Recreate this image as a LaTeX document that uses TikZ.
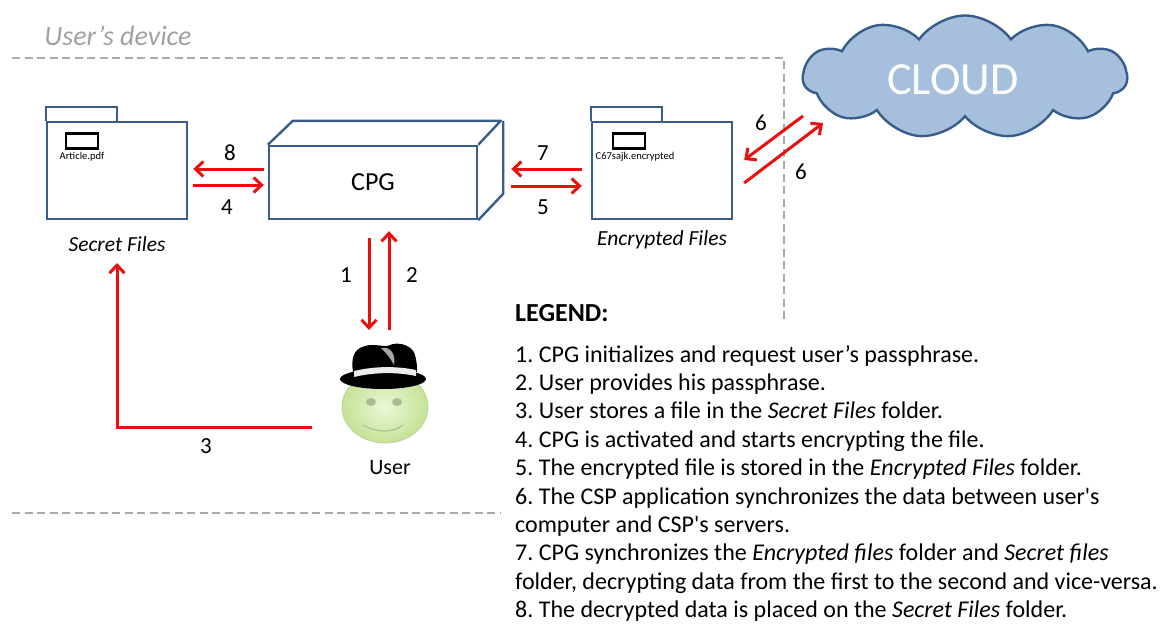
\documentclass[tikz,border=0pt]{standalone}
\usepackage{fontspec}
\setmainfont{Carlito}
\usetikzlibrary{arrows.meta,shapes.symbols}

\definecolor{boxblue}{RGB}{56,93,138}
\definecolor{flowred}{RGB}{232,16,16}
\definecolor{cloudfill}{RGB}{166,191,221}
\definecolor{bordergray}{RGB}{170,170,170}
\definecolor{faceinner}{RGB}{236,248,214}
\definecolor{faceouter}{RGB}{196,226,150}
\definecolor{faceedge}{RGB}{186,212,150}
\definecolor{eyegray}{RGB}{168,188,150}

\frenchspacing

\begin{document}
\begin{tikzpicture}[x=1pt,y=-1pt,
    folder/.style={draw=boxblue,line width=2.4pt,minimum width=140pt,minimum height=97pt},
    cube/.style={draw=boxblue,line width=2.4pt,minimum width=208pt,minimum height=73pt,font=\fontsize{26}{30}\selectfont},
    flow/.style={draw=flowred,line width=3pt,-{Straight Barb[length=8pt,width=15pt]}},
    num/.style={font=\fontsize{23}{27}\selectfont},
    caption/.style={font=\fontsize{21.5}{25}\selectfont\itshape},
    fileicon/.style={draw,line width=2.6pt,minimum width=32pt,minimum height=15pt,inner sep=0pt},
    filename/.style={font=\fontsize{10.5}{12}\selectfont,inner sep=0pt},
    boundary/.style={draw=bordergray,line width=2.6pt,dash pattern=on 8pt off 4.5pt},
    legend/.style={font=\fontsize{24}{28}\selectfont,anchor=base west,inner sep=0pt}]
    \useasboundingbox (0,0) rectangle (1161,626);

    \draw[boundary] (12,58) -- (784,58) -- (784,323);
    \draw[boundary] (12,513) -- (500,513);
    \node[text=bordergray!95!black,font=\fontsize{28}{32}\selectfont\itshape] (device) at (118,36) {User’s device};

    \node[folder] (secret) at (117,170.5) {};
    \draw[boxblue,line width=2.4pt] (secret.north west) -- ++(0,-14) -- ++(71,0) -- ++(0,14);
    \node[fileicon] (pdf) at (82,141) {};
    \node[filename] at (82,157) {Article.pdf};
    \node[caption] (secretlbl) at (117,244) {Secret Files};

    \node[cube] (cpg) at (373,182.5) {CPG};
    \draw[boxblue,line width=2.4pt,line join=round] (cpg.north west) -- ++(25,-24) -- ++(208,0) -- (cpg.north east)
        (cpg.north east) ++(25,-24) -- ++(0,73) -- (cpg.south east);

    \node[folder] (enc) at (662,170.5) {};
    \draw[boxblue,line width=2.4pt] (enc.north west) -- ++(0,-14) -- ++(71,0) -- ++(0,14);
    \node[fileicon] (encfile) at (629,141) {};
    \node[filename] at (635,157) {C67sajk.encrypted};
    \node[caption] (enclbl) at (662,240) {Encrypted Files};

    \node[cloud,cloud puffs=11,cloud puff arc=110,aspect=2.6,draw=boxblue,line width=2.4pt,fill=cloudfill,
        minimum width=324pt,minimum height=123pt,
        label={[text=white,font=\fontsize{46}{52}\selectfont,xshift=-12pt,yshift=-3pt]center:CLOUD}] (cloud) at (965,77) {};

    % user with hat
    \coordinate (user) at (385,407);
    \shadedraw[inner color=faceinner,outer color=faceouter,draw=faceedge,line width=0.8pt] (user) ellipse [x radius=43pt,y radius=36pt];
    \fill[eyegray] ([shift={(-14,-5)}]user) ellipse [x radius=5pt,y radius=4pt];
    \fill[eyegray] ([shift={(12,-5)}]user) ellipse [x radius=5pt,y radius=4pt];
    \draw[eyegray,line width=1pt] ([shift={(-22,18)}]user) .. controls ([shift={(-8,26)}]user) and ([shift={(8,26)}]user) .. ([shift={(18,18)}]user);
    \fill[black] ([shift={(-2,-28)}]user) ellipse [x radius=43pt,y radius=10pt];
    \fill[black] ([shift={(-32,-35)}]user) .. controls ([shift={(-34,-48)}]user) and ([shift={(-32,-58)}]user) .. ([shift={(-20,-61)}]user)
        .. controls ([shift={(-10,-64)}]user) and ([shift={(0,-59)}]user) .. ([shift={(5,-62)}]user)
        .. controls ([shift={(14,-66)}]user) and ([shift={(28,-61)}]user) .. ([shift={(30,-52)}]user)
        .. controls ([shift={(32,-45)}]user) and ([shift={(32,-40)}]user) .. ([shift={(32,-35)}]user) -- cycle;
    \fill[gray!70] ([shift={(-4,-59)}]user) .. controls ([shift={(6,-61)}]user) and ([shift={(11,-52)}]user) .. ([shift={(9,-42)}]user)
        .. controls ([shift={(5,-50)}]user) and ([shift={(1,-54)}]user) .. cycle;
    \fill[gray!15] ([shift={(-31,-36)}]user) .. controls ([shift={(-10,-41)}]user) and ([shift={(12,-41)}]user) .. ([shift={(31,-37)}]user)
        -- ([shift={(31,-31)}]user) .. controls ([shift={(12,-35)}]user) and ([shift={(-10,-35)}]user) .. ([shift={(-31,-30)}]user) -- cycle;
    \node[font=\fontsize{22}{26}\selectfont] (userlbl) at (390,468) {User};

    \draw[flow] ([shift={(-4,-13.5)}]cpg.west) -- ([shift={(5,-1.5)}]secret.east);
    \draw[flow] ([shift={(5,14.5)}]secret.east) -- ([shift={(-4,2.5)}]cpg.west);
    \node[num] at (230,153) {8};
    \node[num] at (227,207) {4};

    \draw[flow] ([shift={(-9,-1.5)}]enc.west) -- ([shift={(33,-13.5)}]cpg.east);
    \draw[flow] ([shift={(33,3.5)}]cpg.east) -- ([shift={(-9,15.5)}]enc.west);
    \node[num] at (543,153) {7};
    \node[num] at (543,207) {5};

    \draw[flow] ([shift={(-162,39)}]cloud.center) -- ([shift={(11,-10.5)}]enc.east);
    \draw[flow] ([shift={(11,12.5)}]enc.east) -- ([shift={(-142,46)}]cloud.center);
    \node[num] at (761,123) {6};
    \node[num] at (801,172) {6};

    \draw[flow] ([shift={(-4,18)}]cpg.south) -- ([shift={(-16,-77)}]user);
    \draw[flow] ([shift={(4,-77)}]user) -- ([shift={(16,11)}]cpg.south);
    \node[num] at (346,275) {1};
    \node[num] at (412,275) {2};

    \draw[flow] ([shift={(-73,20)}]user) -| ([yshift=-19pt]secretlbl.center);
    \node[num] at (206,446) {3};

    \node[font=\fontsize{26}{30}\selectfont\bfseries,anchor=base west,inner sep=0pt] (legendhead) at (515,321) {LEGEND:};
    \foreach \txt [count=\i from 0] in {
        {1. CPG initializes and request user’s passphrase.},
        {2. User provides his passphrase.},
        {3. User stores a file in the \textit{Secret Files} folder.},
        {4. CPG is activated and starts encrypting the file.},
        {5. The encrypted file is stored in the \textit{Encrypted Files} folder.},
        {6. The CSP application synchronizes the data between user\textquotesingle s},
        {computer and CSP\textquotesingle s servers.},
        {7. CPG synchronizes the \textit{Encrypted files} folder and \textit{Secret files}},
        {folder, decrypting data from the first to the second and vice-versa.},
        {8. The decrypted data is placed on the \textit{Secret Files} folder.}}
        \node[legend] (item\i) at (515,{362+28.4*\i}) {\txt};
\end{tikzpicture}
\end{document}
